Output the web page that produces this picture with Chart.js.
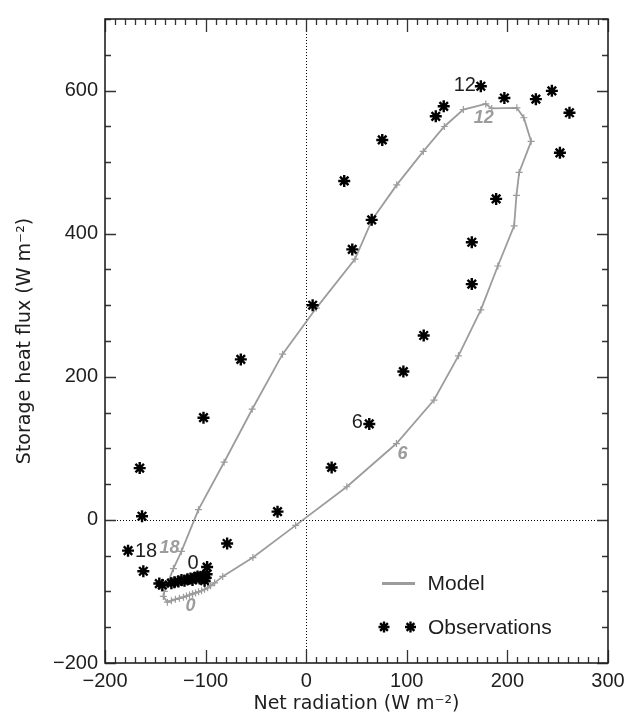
<!DOCTYPE html>
<html><head><meta charset="utf-8">
<script src="https://cdn.jsdelivr.net/npm/chart.js@4/dist/chart.umd.min.js"></script>
<style>html,body{margin:0;padding:0;background:#fff;}canvas{display:block;}</style>
</head><body>
<canvas id="c" width="631" height="719"></canvas>
<script>
// ---- data (W m-2) ----
const xTickLabels = [-200, -100, 0, 100, 200, 300];
const yTickLabels = [-200, 0, 200, 400, 600];

// Model: half-hourly, starting at 00:00
const modelNetRad = [-113,-110,-107,-104,-101,-98,-95,-91,-83,-53,-10.5,40.4,
  89.7,127,151.3,173.6,190.5,206.7,209,211.7,223.6,216.3,209.4,184.5,
  178.5,156.2,137.3,116.4,90,65.7,48.5,10,-23.5,-53.7,-81.6,-107.1,
  -124,-132,-137,-141,-142,-138,-134,-130,-126,-122,-119,-116,-113];
const modelStorage = [-103.5,-102,-100.5,-99,-97,-95,-92,-88,-79,-52.6,-7.7,46.3,
  106.7,167.5,229.3,293.4,354.8,411,453.6,485.6,529,562,575.9,575,
  581.3,573.5,549.8,515,468.2,420,364.4,296,231.6,154.7,80.6,14.3,
  -44,-68,-86,-100,-107,-115,-113,-111,-109.5,-108,-106.5,-105,-103.5];

// Observations (approximately in time order from 00:00)
const obsNetRad = [-98.5,-100,-102,-104,-106,-108,-110,-101,-99,-78.6,-28.5,25.3,
  62.7,96.6,116.8,164.6,164.6,188.8,252.2,261.7,244.2,228.3,197,173.6,
  136.7,128.8,75.6,37.8,65.1,45.8,6.4,-65,-102.1,-165.5,-163.2,-177.1,
  -161.9,-146,-143,-134,-131,-127,-124,-121,-118,-115,-113];
const obsStorage = [-65.9,-81,-78,-80,-82,-79,-81,-85,-76,-33,11.5,73.3,
  134.1,207.3,257.7,329.5,388,448.6,513,569,599.6,588,589.6,606,
  578,564,531,473.7,419.3,378,300,224.3,142.8,72.4,5.1,-43,
  -71.8,-89,-91,-88.5,-87,-86,-84,-85,-83,-82,-84];

const hourText = ['0', '6', '12', '18'];
const modelHourIdx = [0, 12, 24, 36];
const obsHourIdx = [0, 12, 23, 35];

const GRAY = '#9c9c9c';
const INK = '#1e1e1e';

const overlay = {
  id: 'overlay',
  beforeDatasetsDraw(chart) {
    const {ctx, chartArea: a, scales: {x, y}} = chart;
    ctx.save();
    // dotted zero lines
    ctx.strokeStyle = '#000'; ctx.lineWidth = 1; ctx.setLineDash([1, 2]);
    const x0 = Math.round(x.getPixelForValue(0)) + 0.5;
    const y0 = Math.round(y.getPixelForValue(0)) + 0.5;
    ctx.beginPath();
    ctx.moveTo(x0, a.top); ctx.lineTo(x0, a.bottom);
    ctx.moveTo(a.left, y0); ctx.lineTo(a.right, y0);
    ctx.stroke();
    ctx.setLineDash([]);
    // inward ticks on all four sides
    ctx.strokeStyle = '#333'; ctx.lineWidth = 1.3;
    ctx.beginPath();
    x.ticks.forEach(t => {
      const px = Math.round(x.getPixelForValue(t.value)) + 0.5;
      const len = xTickLabels.includes(Math.round(t.value)) ? 13 : 6;
      ctx.moveTo(px, a.bottom); ctx.lineTo(px, a.bottom - len);
      ctx.moveTo(px, a.top); ctx.lineTo(px, a.top + len);
    });
    y.ticks.forEach(t => {
      const py = Math.round(y.getPixelForValue(t.value)) + 0.5;
      const len = yTickLabels.includes(Math.round(t.value)) ? 11 : 6;
      ctx.moveTo(a.left, py); ctx.lineTo(a.left + len, py);
      ctx.moveTo(a.right, py); ctx.lineTo(a.right - len, py);
    });
    ctx.stroke();
    // frame
    ctx.lineWidth = 1.6; ctx.strokeStyle = '#222';
    ctx.strokeRect(a.left, a.top, a.right - a.left, a.bottom - a.top);
    ctx.restore();
  },
  afterDatasetsDraw(chart) {
    const {ctx, chartArea: a, scales: {x, y}} = chart;
    ctx.save();
    ctx.textAlign = 'center'; ctx.textBaseline = 'middle';
    // observation hour labels (black)
    const obsOff = [[-14, -4], [-12, -1], [-16, -1], [18, 1]];
    ctx.font = '20px "Liberation Sans", Arial, sans-serif';
    ctx.fillStyle = INK;
    obsHourIdx.forEach((idx, k) => {
      const px = x.getPixelForValue(obsNetRad[idx]);
      const py = y.getPixelForValue(obsStorage[idx]);
      ctx.fillText(hourText[k], px + obsOff[k][0], py + obsOff[k][1]);
    });
    // model hour labels (gray bold italic)
    const modOff = [[-2, 12], [6, 10], [-2, 14], [-12, -3]];
    ctx.font = 'italic bold 18px "Liberation Sans", Arial, sans-serif';
    ctx.fillStyle = GRAY;
    modelHourIdx.forEach((idx, k) => {
      const px = x.getPixelForValue(modelNetRad[idx]);
      const py = y.getPixelForValue(modelStorage[idx]);
      ctx.fillText(hourText[k], px + modOff[k][0], py + modOff[k][1]);
    });
    // legend
    const lx = a.left, ly = a.top;
    ctx.strokeStyle = GRAY; ctx.lineWidth = 3;
    ctx.beginPath(); ctx.moveTo(lx + 277, ly + 564.5); ctx.lineTo(lx + 310, ly + 564.5); ctx.stroke();
    ctx.font = '21px "Liberation Sans", Arial, sans-serif';
    ctx.fillStyle = INK; ctx.textAlign = 'left';
    ctx.fillText('Model', lx + 322.5, ly + 565);
    ctx.fillText('Observations', lx + 323, ly + 609);
    ctx.strokeStyle = '#000'; ctx.fillStyle = '#000'; ctx.lineWidth = 2.4;
    const starOpts = {pointStyle: 'star', radius: 5.5, borderWidth: 2.4, rotation: 0};
    [279, 305.5].forEach(sx => Chart.helpers.drawPoint(ctx, starOpts, lx + sx, ly + 608));
    ctx.restore();
  }
};

new Chart(document.getElementById('c'), {
  type: 'scatter',
  data: {
    datasets: [
      {
        label: 'Observations',
        data: obsNetRad.map((v, i) => ({x: v, y: obsStorage[i]})),
        pointStyle: 'star', pointRadius: 6, pointBorderWidth: 2.4,
        borderColor: '#000', backgroundColor: '#000', showLine: false
      },
      {
        label: 'Model',
        data: modelNetRad.map((v, i) => ({x: v, y: modelStorage[i]})),
        showLine: true, borderColor: GRAY, borderWidth: 1.8,
        pointStyle: 'cross', pointRadius: 3.5, pointBorderWidth: 1.2,
        pointBorderColor: GRAY, backgroundColor: GRAY, tension: 0
      }
    ]
  },
  options: {
    responsive: false, animation: false, devicePixelRatio: 1,
    layout: {padding: {top: 8, right: 23, bottom: 0, left: 0}},
    plugins: {legend: {display: false}, tooltip: {enabled: false}},
    scales: {
      x: {
        type: 'linear', min: -200, max: 300,
        afterFit: s => { s.height = 56; },
        grid: {display: false, drawTicks: false},
        border: {display: false},
        ticks: {
          stepSize: 10, autoSkip: false, maxRotation: 0, padding: 6,
          color: INK, font: {family: '"Liberation Sans", Arial, sans-serif', size: 20},
          callback: v => xTickLabels.includes(Math.round(v)) ? String(Math.round(v)).replace('-', '\u2212') : ''
        },
        title: {display: true, text: 'Net radiation (W m\u207B\u00B2)', color: INK,
          font: {family: '"DejaVu Sans", sans-serif', size: 19}, padding: {top: 0, bottom: 4}}
      },
      y: {
        type: 'linear', min: -200, max: 700,
        afterFit: s => { s.width = 105; },
        grid: {display: false, drawTicks: false},
        border: {display: false},
        ticks: {
          stepSize: 50, autoSkip: false, padding: 7,
          color: INK, font: {family: '"Liberation Sans", Arial, sans-serif', size: 20},
          callback: v => yTickLabels.includes(Math.round(v)) ? String(Math.round(v)).replace('-', '\u2212') : ''
        },
        title: {display: true, text: 'Storage heat flux (W m\u207B\u00B2)', color: INK,
          font: {family: '"DejaVu Sans", sans-serif', size: 19}, padding: {top: 14, bottom: 0}}
      }
    }
  },
  plugins: [overlay]
});
</script>
</body></html>
